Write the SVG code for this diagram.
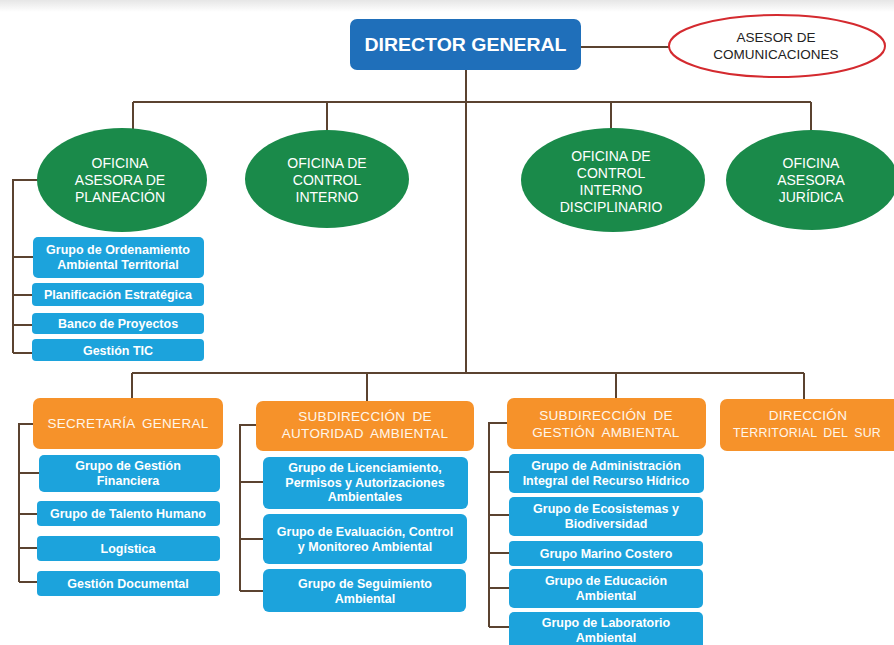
<svg xmlns="http://www.w3.org/2000/svg" width="894" height="645" viewBox="0 0 894 645">
<defs>
<linearGradient id="topband" x1="0" y1="0" x2="0" y2="1">
<stop offset="0" stop-color="#e6e6e6"/>
<stop offset="1" stop-color="#ffffff"/>
</linearGradient>
</defs>
<style>
.ln{stroke:#5b4330;stroke-width:2;fill:none}
.oval{fill:#1a8a4a}
.ot{fill:#ffffff;font-family:"Liberation Sans",Arial,sans-serif;font-size:14px;text-anchor:middle}
.blue{fill:#1ca3dc}
.bt{fill:#ffffff;font-family:"Liberation Sans",Arial,sans-serif;font-size:12.5px;font-weight:bold;text-anchor:middle}
.org{fill:#f6922a}
.gt{fill:#fff6ea;font-family:"Liberation Sans",Arial,sans-serif;font-size:13.5px;text-anchor:middle;word-spacing:3px;letter-spacing:0.3px}
</style>
<rect x="0" y="0" width="894" height="645" fill="#ffffff"/>
<rect x="0" y="0" width="894" height="12" fill="url(#topband)"/>

<g id="connectors">
<path class="ln" d="M581 47 H669"/>
<path class="ln" d="M466 70 V373"/>
<path class="ln" d="M133 102 H811 M133 102 V129 M327 102 V132 M611 102 V129 M811 102 V132"/>
<path class="ln" d="M38 180 H13 V353 M13 257 H33 M13 295 H32 M13 325 H32 M13 353 H32"/>
<path class="ln" d="M132 373 H804 M132 373 V398 M367 373 V401 M616 373 V398 M804 373 V399"/>
<path class="ln" d="M33 424 H19 V582 M19 473 H39 M19 514 H37 M19 548 H37 M19 582 H37"/>
<path class="ln" d="M256 425 H240 V591 M240 482 H263 M240 539 H263 M240 591 H263"/>
<path class="ln" d="M507 423 H489 V627 M489 472 H509 M489 515 H509 M489 553 H509 M489 588 H509 M489 627 H509"/>
</g>

<g id="director">
<rect x="350" y="19" width="231" height="51" rx="7" fill="#1f6fba"/>
<text x="465.5" y="51" fill="#ffffff" font-family="Liberation Sans,Arial,sans-serif" font-size="19" font-weight="bold" text-anchor="middle" textLength="202" lengthAdjust="spacingAndGlyphs">DIRECTOR GENERAL</text>
</g>

<g id="asesor-comunicaciones">
<ellipse cx="777" cy="46" rx="108" ry="31" fill="#ffffff" stroke="#d42a2f" stroke-width="2"/>
<text x="776" y="42" fill="#222222" font-family="Liberation Sans,Arial,sans-serif" font-size="13.5" text-anchor="middle">ASESOR DE</text>
<text x="776" y="59" fill="#222222" font-family="Liberation Sans,Arial,sans-serif" font-size="13.5" text-anchor="middle">COMUNICACIONES</text>
</g>

<g id="oficina-planeacion">
<ellipse class="oval" cx="122" cy="180" rx="85" ry="52"/>
<text class="ot" x="120" y="168">OFICINA</text>
<text class="ot" x="120" y="185">ASESORA DE</text>
<text class="ot" x="120" y="202">PLANEACIÓN</text>
</g>
<g id="oficina-control-interno">
<ellipse class="oval" cx="327" cy="179" rx="82" ry="49"/>
<text class="ot" x="327" y="168">OFICINA DE</text>
<text class="ot" x="327" y="185">CONTROL</text>
<text class="ot" x="327" y="202">INTERNO</text>
</g>
<g id="oficina-control-disciplinario">
<ellipse class="oval" cx="613" cy="180" rx="92" ry="52"/>
<text class="ot" x="611" y="161">OFICINA DE</text>
<text class="ot" x="611" y="178">CONTROL</text>
<text class="ot" x="611" y="195">INTERNO</text>
<text class="ot" x="611" y="212">DISCIPLINARIO</text>
</g>
<g id="oficina-juridica">
<ellipse class="oval" cx="812" cy="180" rx="86" ry="50"/>
<text class="ot" x="811" y="168">OFICINA</text>
<text class="ot" x="811" y="185">ASESORA</text>
<text class="ot" x="811" y="202">JURÍDICA</text>
</g>

<g id="grupo-ordenamiento">
<rect class="blue" x="33" y="237" width="171" height="41" rx="5"/>
<text class="bt" x="118" y="254">Grupo de Ordenamiento</text>
<text class="bt" x="118" y="269">Ambiental Territorial</text>
</g>
<g id="planificacion">
<rect class="blue" x="32" y="283" width="172" height="23" rx="4"/>
<text class="bt" x="118" y="299">Planificación Estratégica</text>
</g>
<g id="banco-proyectos">
<rect class="blue" x="32" y="313" width="172" height="21" rx="4"/>
<text class="bt" x="118" y="328">Banco de Proyectos</text>
</g>
<g id="gestion-tic">
<rect class="blue" x="32" y="339" width="172" height="22" rx="4"/>
<text class="bt" x="118" y="355">Gestión TIC</text>
</g>

<g id="secretaria-general">
<rect class="org" x="33" y="398" width="190" height="51" rx="7"/>
<text class="gt" x="128" y="428">SECRETARÍA GENERAL</text>
</g>
<g id="sub-autoridad">
<rect class="org" x="256" y="401" width="218" height="50" rx="7"/>
<text class="gt" x="365" y="421">SUBDIRECCIÓN DE</text>
<text class="gt" x="365" y="438">AUTORIDAD AMBIENTAL</text>
</g>
<g id="sub-gestion">
<rect class="org" x="507" y="398" width="199" height="51" rx="7"/>
<text class="gt" x="606" y="420">SUBDIRECCIÓN DE</text>
<text class="gt" x="606" y="437">GESTIÓN AMBIENTAL</text>
</g>
<g id="direccion-sur">
<rect class="org" x="720" y="399" width="186" height="52" rx="7"/>
<text class="gt" x="808" y="420">DIRECCIÓN</text>
<text class="gt" x="807" y="437" textLength="148" lengthAdjust="spacingAndGlyphs">TERRITORIAL DEL SUR</text>
</g>

<g id="grupo-financiera">
<rect class="blue" x="39" y="455" width="181" height="37" rx="5"/>
<text class="bt" x="128" y="470">Grupo de Gestión</text>
<text class="bt" x="128" y="485">Financiera</text>
</g>
<g id="grupo-talento">
<rect class="blue" x="37" y="501" width="183" height="25" rx="4"/>
<text class="bt" x="128" y="518">Grupo de Talento Humano</text>
</g>
<g id="logistica">
<rect class="blue" x="37" y="536" width="183" height="25" rx="4"/>
<text class="bt" x="128" y="553">Logística</text>
</g>
<g id="gestion-documental">
<rect class="blue" x="37" y="571" width="183" height="25" rx="4"/>
<text class="bt" x="128" y="588">Gestión Documental</text>
</g>

<g id="grupo-licenciamiento">
<rect class="blue" x="263" y="457" width="205" height="52" rx="6"/>
<text class="bt" x="365" y="472">Grupo de Licenciamiento,</text>
<text class="bt" x="365" y="487">Permisos y Autorizaciones</text>
<text class="bt" x="365" y="501">Ambientales</text>
</g>
<g id="grupo-evaluacion">
<rect class="blue" x="263" y="514" width="204" height="50" rx="6"/>
<text class="bt" x="365" y="536">Grupo de Evaluación, Control</text>
<text class="bt" x="365" y="551">y Monitoreo Ambiental</text>
</g>
<g id="grupo-seguimiento">
<rect class="blue" x="263" y="569" width="203" height="43" rx="6"/>
<text class="bt" x="365" y="588">Grupo de Seguimiento</text>
<text class="bt" x="365" y="603">Ambiental</text>
</g>

<g id="grupo-hidrico">
<rect class="blue" x="509" y="454" width="195" height="39" rx="5"/>
<text class="bt" x="606" y="470">Grupo de Administración</text>
<text class="bt" x="606" y="485">Integral del Recurso Hídrico</text>
</g>
<g id="grupo-ecosistemas">
<rect class="blue" x="509" y="497" width="194" height="39" rx="5"/>
<text class="bt" x="606" y="513">Grupo de Ecosistemas y</text>
<text class="bt" x="606" y="528">Biodiversidad</text>
</g>
<g id="grupo-marino">
<rect class="blue" x="509" y="541" width="194" height="25" rx="4"/>
<text class="bt" x="606" y="558">Grupo Marino Costero</text>
</g>
<g id="grupo-educacion">
<rect class="blue" x="509" y="569" width="194" height="39" rx="5"/>
<text class="bt" x="606" y="585">Grupo de Educación</text>
<text class="bt" x="606" y="600">Ambiental</text>
</g>
<g id="grupo-laboratorio">
<rect class="blue" x="509" y="612" width="194" height="45" rx="5"/>
<text class="bt" x="606" y="627">Grupo de Laboratorio</text>
<text class="bt" x="606" y="642">Ambiental</text>
</g>
</svg>
